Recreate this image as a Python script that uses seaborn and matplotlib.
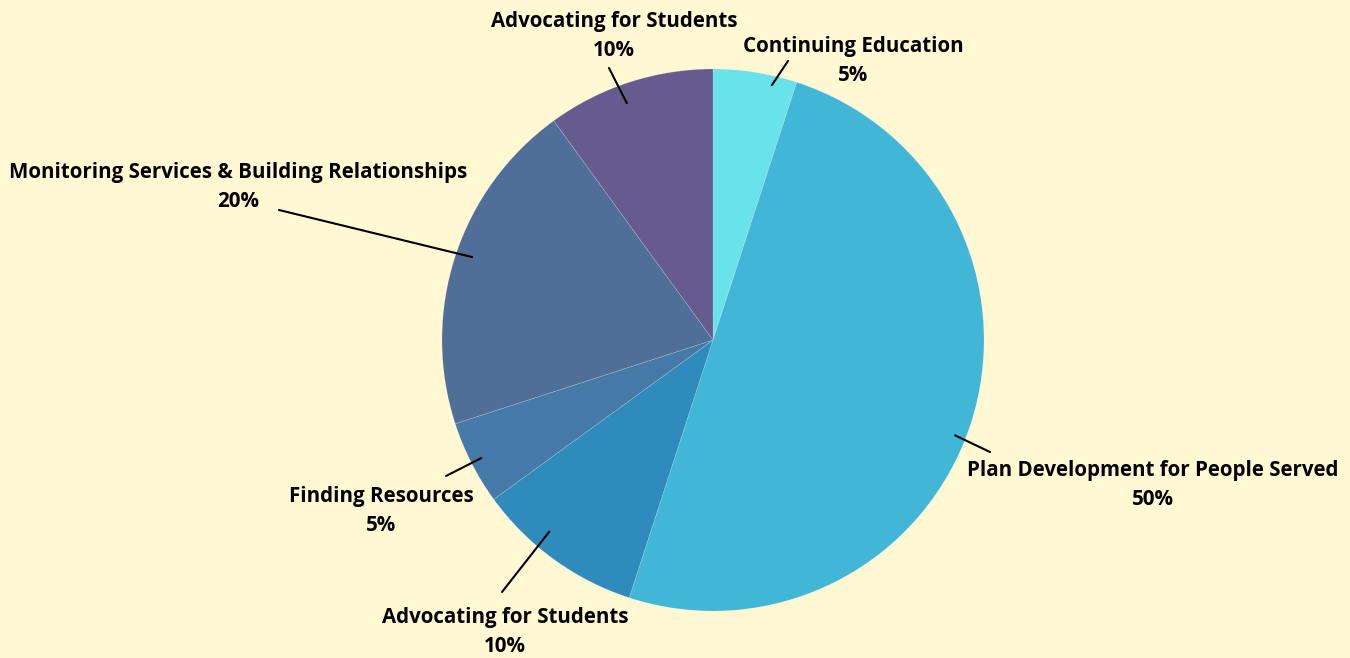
import numpy as np
import seaborn as sns
import matplotlib.pyplot as plt

categories = ["Continuing Education", "Plan Development for People Served",
              "Advocating for Students", "Finding Resources",
              "Monitoring Services & Building Relationships", "Advocating for Students"]
shares = [5, 50, 10, 5, 20, 10]
colors = ["#68E3E9", "#41B6D7", "#2E8BBB", "#457AA8", "#4F6E98", "#655B8F"]

# label block centres and leader line ends (pixels, y measured from top)
label_pos = [(853, 61), (1153, 485), (505, 632), (381, 511), (238, 187), (614, 36)]
line_end = [(788, 61), (990, 452), (502, 592), (446, 476), (279, 210), (609, 68)]
# leader start: fraction of radius, and angle shift from the wedge middle (deg)
line_start_r = [0.965, 0.96, 0.93, 0.96, 0.94, 0.93]
line_start_shift = [-4, -3.5, -4.5, 0, -1, 2]

sns.set_style("white")
plt.rcParams['font.family'] = ['Open Sans', 'DejaVu Sans']

bg = "#FFF8D2"
W, H = 1350, 658
fig = plt.figure(figsize=(13.5, 6.58), dpi=100, facecolor=bg)
ax = fig.add_axes([0, 0, 1, 1])
ax.set_facecolor(bg)

cx, cy, r = 713, H - 340, 271
wedges, _ = ax.pie(shares, colors=colors, startangle=90, counterclock=False,
                   center=(cx, cy), radius=r, frame=True,
                   wedgeprops=dict(edgecolor=(1, 1, 1, 0.2), linewidth=0.5))
ax.set_xlim(0, W)
ax.set_ylim(0, H)
ax.set_aspect("equal")
ax.axis("off")

total = sum(shares)
for i, w in enumerate(wedges):
    mid = np.deg2rad((w.theta1 + w.theta2) / 2 + line_start_shift[i])
    sx = cx + line_start_r[i] * r * np.cos(mid)
    sy = cy + line_start_r[i] * r * np.sin(mid)
    ex, ey = line_end[i]
    ax.plot([sx, ex], [sy, H - ey], color="black", lw=1.5)
    tx, ty = label_pos[i]
    ax.text(tx, H - ty, f"{categories[i]}\n{shares[i] / total * 100:.0f}%",
            ha="center", va="center", fontsize=14.8, fontweight="bold",
            linespacing=1.5, color="black")

fig.savefig("out.png", dpi=100, facecolor=bg)
